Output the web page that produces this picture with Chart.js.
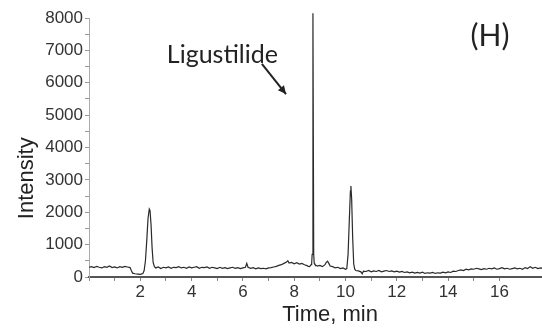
<!DOCTYPE html>
<html>
<head>
<meta charset="utf-8">
<script src="https://cdn.jsdelivr.net/npm/chart.js@4.4.0/dist/chart.umd.min.js"></script>
<style>
  body { margin: 0; background: #fff; }
  #wrap { width: 542px; height: 336px; }
</style>
</head>
<body>
<div id="wrap"><canvas id="chart" width="542" height="336"></canvas></div>
<script>
// retention time (min) and detector intensity
const times = [
  0.0, 0.1, 0.2, 0.3, 0.4, 0.5, 0.6, 0.7, 0.8, 0.9, 1.0, 1.1, 1.2, 1.3, 1.4, 1.5, 1.6, 1.65, 1.7, 1.8,
  1.9, 2.0, 2.1, 2.15, 2.2, 2.25, 2.3, 2.35, 2.38, 2.42, 2.46, 2.5, 2.55, 2.6, 2.7, 2.8, 2.9, 3.0, 3.1, 3.2,
  3.3, 3.4, 3.5, 3.6, 3.7, 3.8, 3.9, 4.0, 4.1, 4.2, 4.3, 4.4, 4.5, 4.6, 4.7, 4.8, 4.9, 5.0, 5.1, 5.2,
  5.3, 5.4, 5.5, 5.6, 5.7, 5.8, 5.9, 6.0, 6.1, 6.15, 6.2, 6.3, 6.4, 6.5, 6.6, 6.7, 6.8, 6.9, 7.0, 7.1,
  7.2, 7.3, 7.4, 7.5, 7.6, 7.7, 7.75, 7.8, 7.9, 8.0, 8.1, 8.2, 8.3, 8.4, 8.5, 8.55, 8.6, 8.66, 8.68, 8.70,
  8.73, 8.76, 8.78, 8.81, 8.85, 8.9, 9.0, 9.1, 9.2, 9.25, 9.3, 9.35, 9.4, 9.5, 9.6, 9.7, 9.8, 9.9, 10.0, 10.05,
  10.1, 10.15, 10.19, 10.21, 10.24, 10.28, 10.32, 10.36, 10.4, 10.5, 10.6, 10.65, 10.7, 10.8, 10.9, 11.0, 11.1, 11.2, 11.3, 11.4,
  11.5, 11.6, 11.7, 11.8, 11.9, 12.0, 12.1, 12.2, 12.3, 12.4, 12.5, 12.6, 12.7, 12.8, 12.9, 13.0, 13.1, 13.2, 13.3, 13.4,
  13.5, 13.6, 13.7, 13.8, 13.9, 14.0, 14.1, 14.2, 14.3, 14.4, 14.5, 14.6, 14.7, 14.8, 14.9, 15.0, 15.1, 15.2, 15.3, 15.4,
  15.5, 15.6, 15.7, 15.8, 15.9, 16.0, 16.1, 16.2, 16.3, 16.4, 16.5, 16.6, 16.7, 16.8, 16.9, 17.0, 17.1, 17.2, 17.3, 17.4,
  17.5, 17.6, 17.7
];
const intensity = [
  300, 320, 290, 330, 300, 280, 320, 300, 340, 290, 310, 280, 320, 300, 330, 310, 290, 200, 120, 100,
  90, 80, 110, 200, 500, 1100, 1800, 2100, 2050, 1600, 900, 450, 320, 280, 310, 260, 300, 280, 310, 270,
  300, 290, 320, 280, 300, 270, 310, 280, 300, 320, 270, 300, 290, 310, 270, 300, 280, 260, 300, 270,
  290, 260, 280, 300, 270, 290, 260, 280, 300, 420, 300, 270, 290, 250, 280, 260, 270, 250, 280, 290,
  310, 330, 360, 380, 420, 460, 500, 430, 450, 410, 440, 400, 420, 380, 350, 330, 320, 380, 420, 700,
  8150, 700, 420, 380, 360, 340, 360, 320, 380, 450, 490, 420, 340, 320, 280, 300, 260, 280, 240, 260,
  700, 1800, 2650, 2810, 2400, 1200, 400, 240, 200, 190, 160, 100, 180, 170, 200, 160, 190, 170, 200, 160,
  180, 200, 170, 190, 160, 180, 150, 170, 140, 160, 130, 150, 120, 140, 120, 150, 110, 130, 120, 140,
  110, 130, 120, 150, 130, 160, 140, 180, 170, 200, 220, 200, 240, 220, 250, 240, 270, 250, 230, 260,
  240, 270, 250, 280, 240, 260, 290, 250, 270, 240, 260, 280, 250, 270, 240, 290, 260, 320, 270, 300,
  260, 280, 270
];
const xTickLabels = ['2', '4', '6', '8', '10', '12', '14', '16'];
const yTickLabels = ['0', '1000', '2000', '3000', '4000', '5000', '6000', '7000', '8000'];

const points = times.map((t, i) => ({ x: t, y: intensity[i] }));

// titles and the peak annotation, placed in data units
const annotate = {
  id: 'annotate',
  afterDraw(chart) {
    const { ctx, scales: { x, y } } = chart;
    ctx.save();
    ctx.fillStyle = '#222';

    // axis titles
    ctx.font = '22px "Liberation Sans", Arial, sans-serif';
    ctx.textAlign = 'center';
    ctx.textBaseline = 'middle';
    ctx.fillText('Time, min', x.getPixelForValue(9.4), 315);

    ctx.save();
    ctx.translate(27, y.getPixelForValue(3050));
    ctx.rotate(-Math.PI / 2);
    ctx.fillText('Intensity', 0, 0);
    ctx.restore();

    // peak label + arrow
    ctx.font = '25px Lato, "Open Sans", sans-serif';
    ctx.fillText('Ligustilide', x.getPixelForValue(5.2), y.getPixelForValue(6850));

    const x0 = x.getPixelForValue(6.74), y0 = y.getPixelForValue(6580);
    const x1 = x.getPixelForValue(7.68), y1 = y.getPixelForValue(5650);
    ctx.strokeStyle = '#222';
    ctx.lineWidth = 2;
    ctx.beginPath();
    ctx.moveTo(x0, y0);
    ctx.lineTo(x1, y1);
    ctx.stroke();
    const ang = Math.atan2(y1 - y0, x1 - x0);
    ctx.beginPath();
    ctx.moveTo(x1, y1);
    ctx.lineTo(x1 - 9 * Math.cos(ang - 0.45), y1 - 9 * Math.sin(ang - 0.45));
    ctx.lineTo(x1 - 9 * Math.cos(ang + 0.45), y1 - 9 * Math.sin(ang + 0.45));
    ctx.closePath();
    ctx.fillStyle = '#222';
    ctx.fill();

    // panel letter
    ctx.font = '30px Lato, "Open Sans", sans-serif';
    ctx.fillText('(H)', x.getPixelForValue(15.63), y.getPixelForValue(7440));
    ctx.restore();
  }
};

new Chart(document.getElementById('chart'), {
  type: 'line',
  data: {
    datasets: [{
      data: points,
      borderColor: '#2a2a2a',
      borderWidth: 1.2,
      pointRadius: 0,
      tension: 0,
      fill: false,
      clip: false
    }]
  },
  options: {
    responsive: false,
    animation: false,
    devicePixelRatio: 1,
    layout: { padding: { top: 18, right: 0, left: 0, bottom: 0 } },
    plugins: { legend: { display: false }, tooltip: { enabled: false } },
    scales: {
      x: {
        type: 'linear',
        min: 0,
        max: 17.66,
        afterBuildTicks: s => { s.ticks = s.ticks.filter(t => Number.isInteger(t.value)); },
        afterFit: s => { s.height = 59; },
        ticks: {
          stepSize: 1,
          autoSkip: false,
          maxRotation: 0,
          padding: 1,
          color: '#333',
          font: { family: '"Liberation Sans", Arial, sans-serif', size: 17 },
          callback: v => xTickLabels.includes(String(v)) ? String(v) : ''
        },
        grid: { drawOnChartArea: false, drawTicks: true, tickLength: 4, color: '#888' },
        border: { display: true, color: '#555', width: 2 }
      },
      y: {
        min: 0,
        max: 8000,
        afterFit: s => { s.width = 89; },
        ticks: {
          stepSize: 500,
          autoSkip: false,
          padding: 2,
          color: '#333',
          font: { family: '"Liberation Sans", Arial, sans-serif', size: 17 },
          callback: v => yTickLabels.includes(String(v)) ? String(v) : ''
        },
        grid: { drawOnChartArea: false, drawTicks: true, tickLength: 4, color: '#999' },
        border: { display: true, color: '#aaa', width: 1 }
      }
    }
  },
  plugins: [annotate]
});
</script>
</body>
</html>
